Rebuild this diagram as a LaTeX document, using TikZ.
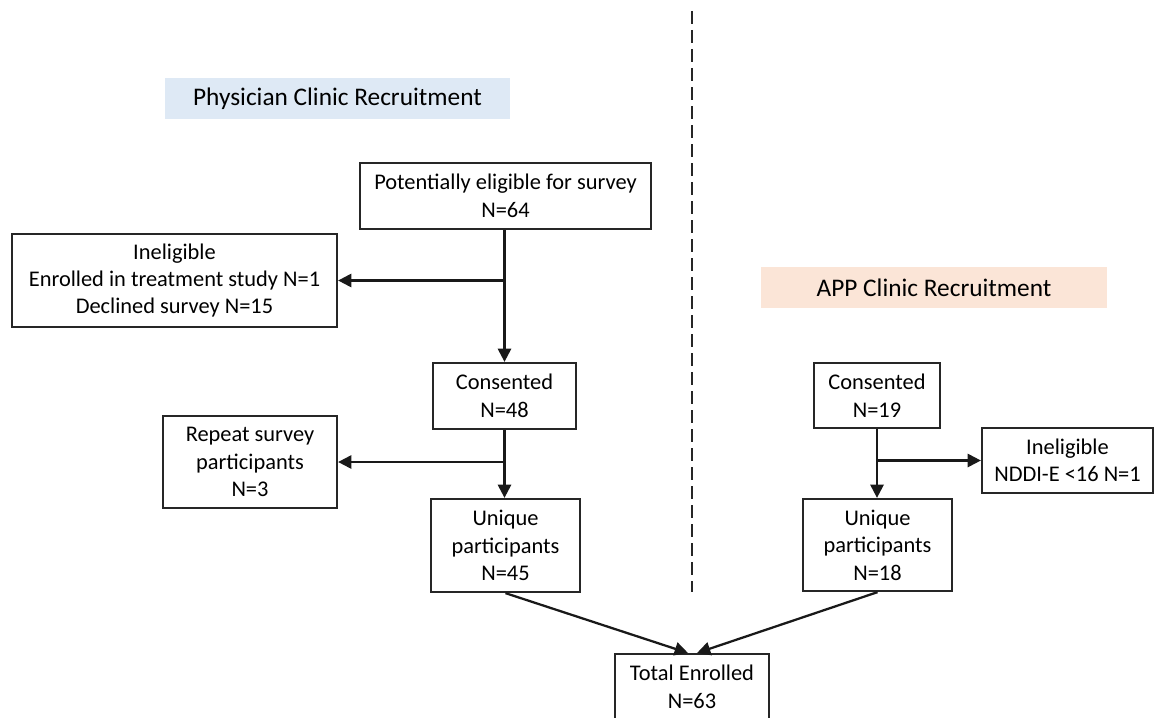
\documentclass[tikz,border=0pt]{standalone}
\usepackage{fontspec}
\setmainfont{Carlito}
\usetikzlibrary{arrows.meta}
\definecolor{physblue}{HTML}{DEE9F5}
\definecolor{apppeach}{HTML}{FBE5D7}
\begin{document}
\begin{tikzpicture}[x=0.75pt,y=-0.75pt,
  every node/.style={font=\fontsize{16.8}{20.6}\selectfont},
  box/.style={draw=black!85, line width=1.7pt, rectangle, align=center, inner sep=2pt},
  hdr/.style={rectangle, align=center, inner sep=0pt, font=\fontsize{19}{23}\selectfont},
  arr/.style={draw=black!90, line width=1.7pt, -{Triangle[length=10pt,width=10pt]}}]
\useasboundingbox (0,0) rectangle (1155,717);
% headers
\node[hdr, fill=physblue, minimum width=345*0.75pt, minimum height=41*0.75pt] (hp) at (337.5,98.5) {Physician Clinic Recruitment};
\node[hdr, fill=apppeach, minimum width=346*0.75pt, minimum height=41*0.75pt] (ha) at (934,287.5) {APP Clinic Recruitment};
% divider
\coordinate (dtop) at (692,11);
\coordinate (dbot) at (692,592);
\draw[line width=1.7pt, draw=black!85, dash pattern=on 9.75pt off 4.5pt] (dtop) -- (dbot);
% left column
\node[box, minimum width=291*0.75pt, minimum height=66*0.75pt] (pe) at (505.5,196) {Potentially eligible for survey\\N=64};
\node[box, minimum width=325*0.75pt, minimum height=93*0.75pt] (il) at (174.5,280.5) {Ineligible\\Enrolled in treatment study N=1\\Declined survey N=15};
\node[box, minimum width=143*0.75pt, minimum height=66*0.75pt] (cl) at (504.5,396) {Consented\\N=48};
\node[box, minimum width=174*0.75pt, minimum height=92*0.75pt] (rp) at (250,462) {Repeat survey\\participants\\N=3};
\node[box, minimum width=149*0.75pt, minimum height=93*0.75pt] (ul) at (505.5,545.5) {Unique\\participants\\N=45};
% right column
\node[box, minimum width=126*0.75pt, minimum height=65*0.75pt] (cr) at (877,395.5) {Consented\\N=19};
\node[box, minimum width=171*0.75pt, minimum height=65*0.75pt] (ir) at (1067.5,460.5) {Ineligible\\NDDI-E <16 N=1};
\node[box, minimum width=149*0.75pt, minimum height=92*0.75pt] (ur) at (877.5,545) {Unique\\participants\\N=18};
% total
\node[box, minimum width=154*0.75pt, minimum height=66*0.75pt] (te) at (692,687) {Total Enrolled\\N=63};
% connectors
\coordinate (b1) at (cl.north |- il.east);
\coordinate (b2) at (cl.south |- rp.east);
\coordinate (b3) at (cr.south |- ir.west);
\draw[arr] (pe.south -| cl.north) -- (cl.north);
\draw[arr] (b1) -- (il.east);
\draw[arr] (cl.south) -- (cl.south |- ul.north);
\draw[arr] (b2) -- (rp.east);
\draw[arr] (cr.south) -- (cr.south |- ur.north);
\draw[arr] (b3) -- (ir.west);
\coordinate (tl) at (688,653);
\coordinate (tr) at (697,653);
\draw[arr] (ul.south) -- (tl);
\draw[arr] (ur.south) -- (tr);
\end{tikzpicture}
\end{document}
